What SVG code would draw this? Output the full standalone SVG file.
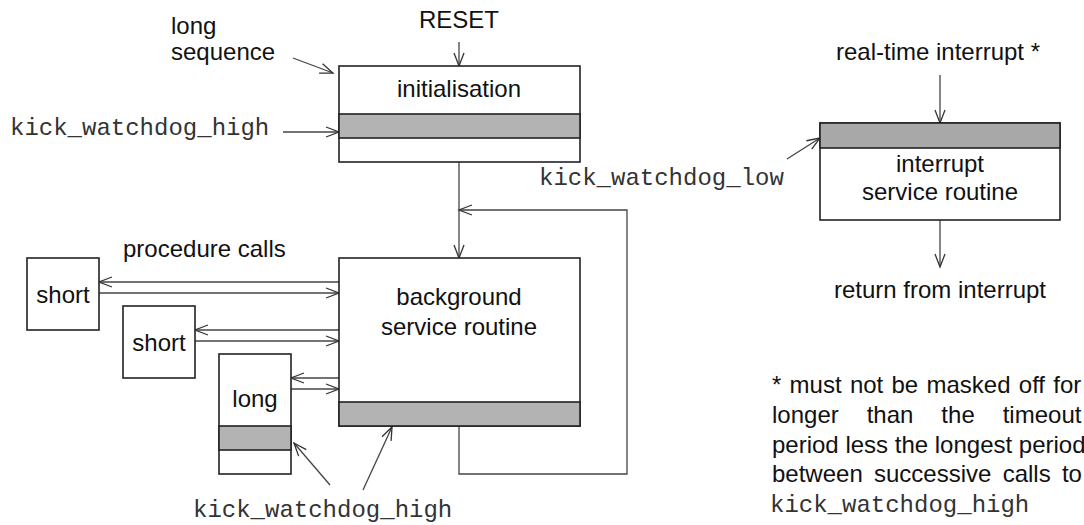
<svg xmlns="http://www.w3.org/2000/svg" width="1084" height="525" viewBox="0 0 1084 525">
<style>
.box{fill:#fff;stroke:#222;stroke-width:1.6}
.band{fill:#b3b3b3;stroke:#222;stroke-width:1.6}
.band2{fill:#a8a8a8;stroke:#222;stroke-width:1.6}
.t{font-family:"Liberation Sans",Arial,sans-serif;font-size:24px;fill:#111}
.c{text-anchor:middle}
.m{font-family:"Liberation Mono","Courier New",monospace;font-size:24px;fill:#333}
.ln{fill:none;stroke:#444;stroke-width:1.3;marker-end:url(#a)}
</style>
<defs>
<marker id="a" markerUnits="userSpaceOnUse" markerWidth="30" markerHeight="30" refX="0" refY="0" viewBox="-15 -15 30 30" orient="auto" overflow="visible">
<path d="M-13,-5 L0,0 L-13,5" fill="none" stroke="#333" stroke-width="1.3"/>
</marker>
</defs>
<rect width="1084" height="525" fill="#fff"/>

<g id="connectors">
<line class="ln" x1="459" y1="42" x2="459" y2="66"/>
<line class="ln" x1="293" y1="58" x2="333" y2="73"/>
<line class="ln" x1="283" y1="132" x2="339" y2="132"/>
<line class="ln" x1="459" y1="162" x2="459" y2="258"/>
<polyline class="ln" points="459,426 459,474 627,474 627,210 459,210"/>
<line class="ln" x1="339" y1="282" x2="99" y2="282"/>
<line class="ln" x1="99" y1="293" x2="339" y2="293"/>
<line class="ln" x1="339" y1="330" x2="195" y2="330"/>
<line class="ln" x1="195" y1="341" x2="339" y2="341"/>
<line class="ln" x1="339" y1="378" x2="291" y2="378"/>
<line class="ln" x1="291" y1="389" x2="339" y2="389"/>
<line class="ln" x1="330" y1="485" x2="294" y2="443"/>
<line class="ln" x1="363" y1="490" x2="392" y2="427"/>
<line class="ln" x1="940" y1="75" x2="940" y2="123"/>
<line class="ln" x1="940" y1="220" x2="940" y2="267"/>
<line class="ln" x1="787" y1="159" x2="820" y2="138"/>
</g>

<g id="initialisation">
<rect class="box" x="339" y="66" width="241" height="96"/>
<rect class="band" x="339" y="114" width="241" height="24"/>
<text class="t c" x="459" y="97">initialisation</text>
</g>

<g id="background">
<rect class="box" x="339" y="258" width="241" height="168"/>
<rect class="band" x="339" y="402" width="241" height="24"/>
<text class="t c" x="459" y="305">background</text>
<text class="t c" x="459" y="335">service routine</text>
</g>

<g id="short1">
<rect class="box" x="27" y="258" width="72" height="72"/>
<text class="t c" x="63" y="303">short</text>
</g>
<g id="short2">
<rect class="box" x="123" y="306" width="72" height="72"/>
<text class="t c" x="159" y="351">short</text>
</g>
<g id="long">
<rect class="box" x="219" y="354" width="72" height="120"/>
<rect class="band" x="219" y="426" width="72" height="24"/>
<text class="t c" x="255" y="407">long</text>
</g>

<g id="isr">
<rect class="box" x="820" y="123" width="240" height="97"/>
<rect class="band2" x="820" y="123" width="240" height="25"/>
<text class="t c" x="940" y="172">interrupt</text>
<text class="t c" x="940" y="200">service routine</text>
</g>

<g id="labels">
<text class="t c" x="459" y="28">RESET</text>
<text class="t" x="171" y="34">long</text>
<text class="t" x="171" y="60">sequence</text>
<text class="m" x="10" y="135">kick_watchdog_high</text>
<text class="t" x="123" y="257">procedure calls</text>
<text class="m" x="193" y="517">kick_watchdog_high</text>
<text class="m" x="539" y="185">kick_watchdog_low</text>
<text class="t c" x="938" y="60">real-time interrupt *</text>
<text class="t c" x="940" y="298">return from interrupt</text>
<text class="t" x="772" y="393" word-spacing="1.6">* must not be masked off for</text>
<text class="t" x="772" y="423" word-spacing="21.3">longer than the timeout</text>
<text class="t" x="772" y="453">period less the longest period</text>
<text class="t" x="772" y="482" word-spacing="4.6">between successive calls to</text>
<text class="m" x="770" y="512">kick_watchdog_high</text>
</g>
</svg>
